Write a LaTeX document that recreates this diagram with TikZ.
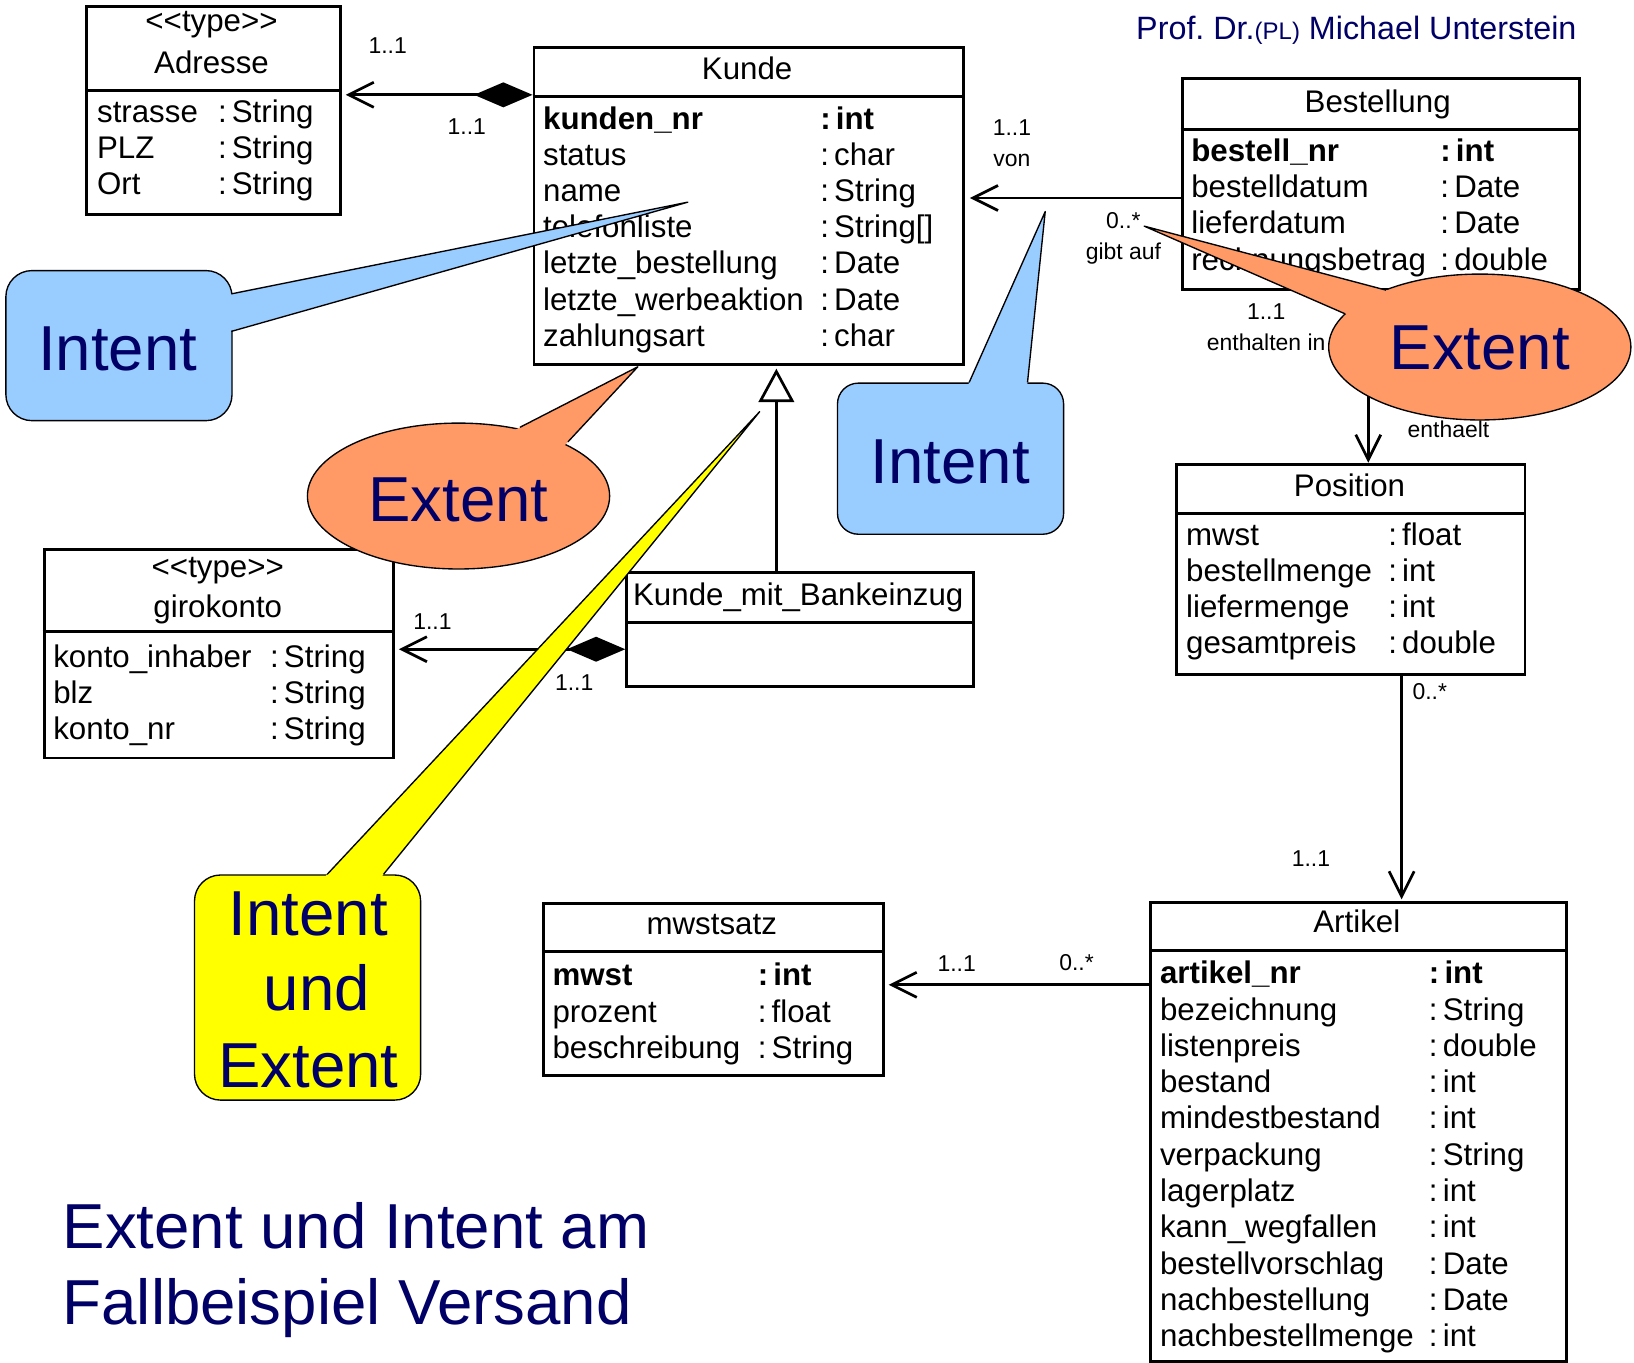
\documentclass[tikz,border=0pt]{standalone}
\usepackage{fontspec}
\setmainfont{Liberation Sans}
\usetikzlibrary{arrows.meta,shapes.geometric}

\definecolor{ink}{RGB}{0,0,102}
\definecolor{callblue}{RGB}{153,204,255}
\definecolor{callorange}{RGB}{255,153,102}
\definecolor{callyellow}{RGB}{255,255,0}

\newcommand\umlfont{\fontsize{30}{34.6}\selectfont}
\newcommand\multfont{\fontsize{22}{26}\selectfont}
\newcommand\callfont{\fontsize{61}{73}\selectfont}
\newcommand\typed[1]{:\kern5pt#1}
\frenchspacing

\begin{document}
\begin{tikzpicture}[x=1pt,y=-1pt,
  umlbox/.style={draw, line width=2.8pt, fill=white, anchor=north west, inner sep=0pt},
  divider/.style={line width=2.8pt},
  txt/.style={inner sep=0pt, font=\umlfont, anchor=mid west, yshift=-7.5pt},
  btxt/.style={inner sep=0pt, font=\umlfont\bfseries, anchor=mid west, yshift=-7.5pt},
  head/.style={inner sep=0pt, font=\umlfont, anchor=mid, yshift=-7pt},
  mult/.style={inner sep=0pt, font=\multfont, anchor=mid, yshift=-4.5pt},
  assoc/.style={line width=2.6pt},
  navi/.style={-{Straight Barb[length=24pt,width=24pt]}},
  comp/.style={{Diamond[length=56pt,width=24pt]}-{Straight Barb[length=24pt,width=24pt]}},
  callline/.style={line width=1.3pt, line join=round},
  calltext/.style={inner sep=0pt, font=\callfont, text=ink, anchor=base},
]
\path[use as bounding box] (0,0) rectangle (1568,1307);

% ---------------- Adresse ----------------
\node[umlbox, minimum width=243pt, minimum height=199pt] (adresse) at (82,5) {};
\draw[divider] (adresse.west |- 0,87) -- (adresse.east |- 0,87);
\node[head] (adr-st) at (203,21) {<{}<type>{}>};
\node[head] (adr-h) at (203,61) {Adresse};
\foreach \a/\b [count=\i from 0] in {strasse/String,PLZ/String,Ort/String}{
  \node[txt] (adr-a\i) at (93,107+34.6*\i) {\a};
  \node[txt] (adr-b\i) at (209,107+34.6*\i) {\typed{\b}};
}

% ---------------- Kunde ----------------
\node[umlbox, minimum width=412pt, minimum height=304pt] (kunde) at (511,44) {};
\draw[divider] (kunde.west |- 0,93) -- (kunde.east |- 0,93);
\node[head] (ku-h) at (717,67) {Kunde};
\node[btxt] (ku-a0) at (521,114) {kunden\_nr};
\node[btxt] (ku-b0) at (787,114) {\typed{int}};
\foreach \a/\b [count=\i from 1] in {status/char,name/String,telefonliste/String[],letzte\_bestellung/Date,letzte\_werbeaktion/Date,zahlungsart/char}{
  \node[txt] (ku-a\i) at (521,114+34.67*\i) {\a};
  \node[txt] (ku-b\i) at (787,114+34.67*\i) {\typed{\b}};
}

% ---------------- Bestellung ----------------
\node[umlbox, minimum width=381pt, minimum height=202pt] (best) at (1133,74) {};
\draw[divider] (best.west |- 0,124) -- (best.east |- 0,124);
\node[head] (be-h) at (1322,98) {Bestellung};
\node[btxt] (be-a0) at (1143,145) {bestell\_nr};
\node[btxt] (be-b0) at (1382,145) {\typed{int}};
\foreach \a/\b [count=\i from 1] in {bestelldatum/Date,lieferdatum/Date,rechnungsbetrag/double}{
  \node[txt] (be-a\i) at (1143,145+34.67*\i) {\a};
  \node[txt] (be-b\i) at (1382,145+34.67*\i) {\typed{\b}};
}

% ---------------- Position ----------------
\node[umlbox, minimum width=334pt, minimum height=202pt] (pos) at (1128,444) {};
\draw[divider] (pos.west |- 0,493) -- (pos.east |- 0,493);
\node[head] (po-h) at (1295,467) {Position};
\foreach \a/\b [count=\i from 0] in {mwst/float,bestellmenge/int,liefermenge/int,gesamtpreis/double}{
  \node[txt] (po-a\i) at (1138,513+34.6*\i) {\a};
  \node[txt] (po-b\i) at (1332,513+34.6*\i) {\typed{\b}};
}

% ---------------- Artikel ----------------
\node[umlbox, minimum width=399pt, minimum height=440pt] (art) at (1103,865) {};
\draw[divider] (art.west |- 0,912) -- (art.east |- 0,912);
\node[head] (ar-h) at (1302,885) {Artikel};
\node[btxt] (ar-a0) at (1113,934) {artikel\_nr};
\node[btxt] (ar-b0) at (1371,934) {\typed{int}};
\foreach \a/\b [count=\i from 1] in {bezeichnung/String,listenpreis/double,bestand/int,mindestbestand/int,verpackung/String,lagerplatz/int,kann\_wegfallen/int,bestellvorschlag/Date,nachbestellung/Date,nachbestellmenge/int}{
  \node[txt] (ar-a\i) at (1113,934+34.8*\i) {\a};
  \node[txt] (ar-b\i) at (1371,934+34.8*\i) {\typed{\b}};
}

% ---------------- mwstsatz ----------------
\node[umlbox, minimum width=326pt, minimum height=165pt] (mwst) at (520,866) {};
\draw[divider] (mwst.west |- 0,913) -- (mwst.east |- 0,913);
\node[head] (mw-h) at (683,887) {mwstsatz};
\node[btxt] (mw-a0) at (530,936) {mwst};
\node[btxt] (mw-b0) at (727,936) {\typed{int}};
\foreach \a/\b [count=\i from 1] in {prozent/float,beschreibung/String}{
  \node[txt] (mw-a\i) at (530,936+34.7*\i) {\a};
  \node[txt] (mw-b\i) at (727,936+34.7*\i) {\typed{\b}};
}

% ---------------- Kunde_mit_Bankeinzug ----------------
\node[umlbox, minimum width=333pt, minimum height=109pt] (kmb) at (600,548) {};
\draw[divider] (kmb.west |- 0,597) -- (kmb.east |- 0,597);
\node[head] (kmb-h) at (766,571) {Kunde\_mit\_Bankeinzug};

% ---------------- girokonto ----------------
\node[umlbox, minimum width=335pt, minimum height=200pt] (giro) at (41,526) {};
\draw[divider] (giro.west |- 0,606) -- (giro.east |- 0,606);
\node[head] (gi-st) at (209,545) {<{}<type>{}>};
\node[head] (gi-h) at (209,583) {girokonto};
\foreach \a/\b [count=\i from 0] in {konto\_inhaber/String,blz/String,konto\_nr/String}{
  \node[txt] (gi-a\i) at (51,630+34.5*\i) {\a};
  \node[txt] (gi-b\i) at (259,630+34.5*\i) {\typed{\b}};
}

% ---------------- connectors ----------------
\draw[assoc, comp, shorten >=4pt] (kunde.west |- 0,91) -- (adresse.east |- 0,91);
\draw[assoc, navi, shorten >=5pt] (best.west |- 0,190) -- (kunde.east |- 0,190);
\draw[assoc, navi] (best.south -| 1313,0) -- (pos.north -| 1313,0);
\draw[assoc, navi, shorten >=2pt] (pos.south -| 1345,0) -- (art.north -| 1345,0);
\draw[assoc, navi, shorten >=4pt] (art.west |- 0,945) -- (mwst.east |- 0,945);
\draw[assoc, comp, shorten >=4pt] (kmb.west |- 0,623) -- (giro.east |- 0,623);
\draw[assoc, -{Triangle[length=32pt,width=34pt,fill=white]}, shorten >=3pt]
  (kmb.north -| 745,0) -- (kunde.south -| 745,0);

% multiplicities and role names
\node[mult] (m1) at (372,44) {1..1};
\node[mult] (m2) at (448,122) {1..1};
\node[mult] (m3) at (971,123) {1..1};
\node[mult] (m4) at (971,153) {von};
\node[mult] (m5) at (1078,212) {0..*};
\node[mult] (m6) at (1078,242) {gibt auf};
\node[mult] (m7) at (1215,299) {1..1};
\node[mult] (m8) at (1215,329) {enthalten in};
\node[mult] (m9) at (1390,413) {enthaelt};
\node[mult] (m10) at (1372,664) {0..*};
\node[mult] (m11) at (1258,824) {1..1};
\node[mult] (m12) at (918,925) {1..1};
\node[mult] (m13) at (1033,924) {0..*};
\node[mult] (m14) at (415,597) {1..1};
\node[mult] (m15) at (551,655) {1..1};

% ---------------- callouts ----------------
% blue callout on the left
\node[draw, callline, fill=callblue, rounded corners=25pt, minimum width=217pt, minimum height=144pt, anchor=north west] (intA) at (5,259) {};
\fill[callblue] (214,283.6) -- (660,194) -- (214,319.6) -- cycle;
\draw[callline] (222,282) -- (660,194) -- (222,318);
\node[calltext] (intA-t) at (113,356) {Intent};

% orange callout in the middle
\node[ellipse, draw, callline, fill=callorange, minimum width=290pt, minimum height=140pt, inner sep=0pt] (extA) at (440,476) {};
\fill[callorange] (487.7,415.8) -- (612,352) -- (538.3,431.2) -- cycle;
\draw[callline] (499,410) -- (612,352) -- (545,424);
\node[calltext] (extA-t) at (440,500) {Extent};

% blue callout on the right
\node[draw, callline, fill=callblue, rounded corners=20pt, minimum width=217pt, minimum height=145pt, anchor=north west] (intB) at (803,367) {};
\fill[callblue] (926.4,375.2) -- (1003,203) -- (985.2,375.2) -- cycle;
\draw[callline] (930,367) -- (1003,203) -- (986,367);
\node[calltext] (intB-t) at (912,464) {Intent};

% orange callout on the right
\node[ellipse, draw, callline, fill=callorange, minimum width=290pt, minimum height=140pt, inner sep=0pt] (extB) at (1420,333) {};
\fill[callorange] (1347.8,283.1) -- (1098,217) -- (1307,308.3) -- cycle;
\draw[callline] (1330,278.4) -- (1098,217) -- (1290.9,301.2);
\node[calltext] (extB-t) at (1420,355) {Extent};

% yellow callout
\node[draw, callline, fill=callyellow, rounded corners=25pt, minimum width=217pt, minimum height=216pt, anchor=north west] (both) at (186,839) {};
\fill[callyellow] (301.5,852.3) -- (729,395) -- (357.2,852.3) -- cycle;
\draw[callline] (314,839) -- (729,395) -- (368,839);
\node[calltext] (both-t1) at (296,898) {Intent};
\node[calltext] (both-t2) at (304,970) {und};
\node[calltext] (both-t3) at (296,1044) {Extent};

% ---------------- titles ----------------
\node[inner sep=0pt, font=\callfont, text=ink, anchor=base west] (title1) at (60,1198) {Extent und Intent am};
\node[inner sep=0pt, font=\callfont, text=ink, anchor=base west] (title2) at (60,1271) {Fallbeispiel Versand};
\node[inner sep=0pt, font=\fontsize{31}{36}\selectfont, text=ink, anchor=base east] (author) at (1513,38)
  {Prof. Dr.{\fontsize{23}{27}\selectfont(PL)} Michael Unterstein};
\end{tikzpicture}
\end{document}
